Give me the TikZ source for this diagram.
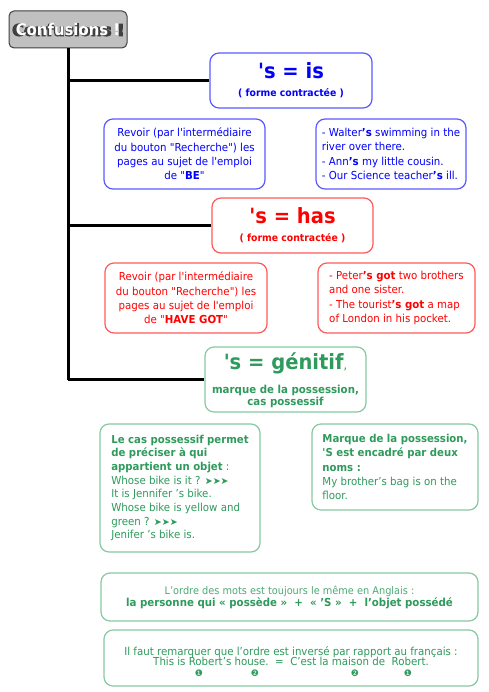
\documentclass[tikz,border=0pt]{standalone}
\usepackage{fontspec}
\setmainfont{DejaVu Sans}[FakeStretch=0.93,Ligatures=TeXOff]
\newfontfamily\symfont{DejaVu Sans}
\newfontfamily\titleouter{DejaVu Sans}[BoldFeatures={FakeBold=7}]
\definecolor{bl}{HTML}{0000FF}
\definecolor{blb}{HTML}{5A5AFF}
\definecolor{rd}{HTML}{FF0000}
\definecolor{rdb}{HTML}{FF5A5A}
\definecolor{gr}{HTML}{2E9A5C}
\definecolor{grb}{HTML}{86C9A2}
\definecolor{titlefill}{HTML}{C0C0C0}
\definecolor{titledraw}{HTML}{404040}
\newcommand\fsz[2]{\fontsize{#1}{#2}\selectfont}
\newcommand\boldln[1]{{\bfseries\fsz{10.9}{14}#1}}
\tikzset{
  box/.style={draw, rounded corners=9pt, line width=1.2pt, inner ysep=0pt, inner xsep=4pt, fill=white},
  bluebox/.style={box, draw=blb, text=bl},
  redbox/.style={box, draw=rdb, text=rd},
  greenbox/.style={box, draw=grb, text=gr},
  trunk/.style={line width=3pt, black},
  body/.style={font=\fsz{11}{14.4}},
  digit/.style={text=gr, font=\symfont\fsz{9}{9}, inner sep=0pt},
}
\newcommand\chevrons{{\symfont\fsz{9.5}{8}\bfseries ➤➤➤}}
\begin{document}
\begin{tikzpicture}[x=1pt,y=-1pt]
\useasboundingbox (0,0) rectangle (488,692);
% title
\node[draw=titledraw, fill=titlefill, line width=1pt, rounded corners=5pt,
      minimum width=118, minimum height=37, inner sep=0pt] (title) at (68,29.5) {};
\node[text=titledraw, font=\titleouter\bfseries\fsz{16}{16}] (titleshadow) at (68.3,29.8) {Confusions !};
\node[text=white, font=\bfseries\fsz{16}{16}] (titletext) at (68,29.5) {Confusions !};

% level boxes
\node[bluebox, minimum width=162, minimum height=55, align=center] (is) at (291,80.5)
  {{\bfseries\fsz{21}{19}'s = is}\\[6pt]{\fsz{10}{12}\bfseries ( forme contractée )}};
\node[redbox, minimum width=161, minimum height=55, align=center] (has) at (292.5,225.5)
  {{\bfseries\fsz{21}{19}'s = has}\\[6pt]{\fsz{10}{12}\bfseries ( forme contractée )}};
\node[greenbox, minimum width=161, minimum height=65, align=center] (gen) at (285.5,379.5)
  {{\bfseries\fsz{21}{19}\rule{0pt}{19pt}'s = génitif{\mdseries\fsz{12}{12},}}\\[10pt]{\fsz{11}{13}\bfseries marque de la possession,}\\{\fsz{11}{13}\bfseries cas possessif}};

% trunk and branches
\draw[trunk] (title.south) -- (title.south |- gen.west);
\draw[trunk] (title.south |- is.west) -- (is.west);
\draw[trunk] (title.south |- has.west) -- (has.west);
\draw[trunk] (title.south |- gen.west) -- (gen.west);

% blue details
\node[bluebox, body, minimum width=161, minimum height=70, align=center] (bl1) at (184.5,154)
  {Revoir (par l'intermédiaire\\du bouton "Recherche") les\\pages au sujet de l'emploi\\de "\textbf{BE}"};
\node[bluebox, body, minimum width=150, minimum height=70, align=left] (bl2) at (391,154)
  {- Walter\textbf{’s} swimming in the\\river over there.\\- Ann\textbf{’s} my little cousin.\\- Our Science teacher\textbf{’s} ill.};

% red details
\node[redbox, body, minimum width=162, minimum height=70, align=center] (rd1) at (186,298)
  {Revoir (par l'intermédiaire\\du bouton "Recherche") les\\pages au sujet de l'emploi\\de "\textbf{HAVE GOT}"};
\node[redbox, body, minimum width=157, minimum height=70, align=left] (rd2) at (396.5,298)
  {- Peter\textbf{’s got} two brothers\\and one sister.\\- The tourist\textbf{’s got} a map\\of London in his pocket.};

% green details
\node[greenbox, font=\fsz{11}{13.7}, minimum width=160, minimum height=128, align=left] (gr1) at (180,488)
  {\boldln{Le cas possessif permet}\\\boldln{de préciser à qui}\\\boldln{appartient un objet} :\\Whose bike is it ? \chevrons\\It is Jennifer ’s bike.\\Whose bike is yellow and\\green ? \chevrons\\Jenifer ’s bike is.};
\node[greenbox, font=\fsz{11}{14.4}, minimum width=166, minimum height=86, align=left] (gr2) at (395,467)
  {\boldln{Marque de la possession,}\\\boldln{'S est encadré par deux}\\\boldln{noms :}\\My brother’s bag is on the\\floor.};

% bottom boxes
\node[greenbox, minimum width=377, minimum height=48, align=center] (bt1) at (289.5,597)
  {{\fsz{10.5}{13}\color{gr!85}L’ordre des mots est toujours le même en Anglais :}\\{\bfseries\fsz{11}{13}la personne qui « possède »\ \ +\ \ « ’S »\ \ +\ \ l’objet possédé}};
\node[greenbox, minimum width=374, minimum height=56, align=center] (bt2) at (291,658)
  {{\fsz{11}{12.5}Il faut remarquer que l’ordre est inversé par rapport au français :}\\[-1.5pt]{\fsz{11}{12.5}This is Robert’s house.\ \ =\ \ C’est la maison de\ \ Robert.\rule[-4pt]{0pt}{1pt}}};
\node[digit] (d1) at (199,673) {❶};
\node[digit] (d2) at (255,673) {❷};
\node[digit] (d3) at (355,673) {❷};
\node[digit] (d4) at (408,673) {❶};
\end{tikzpicture}
\end{document}
